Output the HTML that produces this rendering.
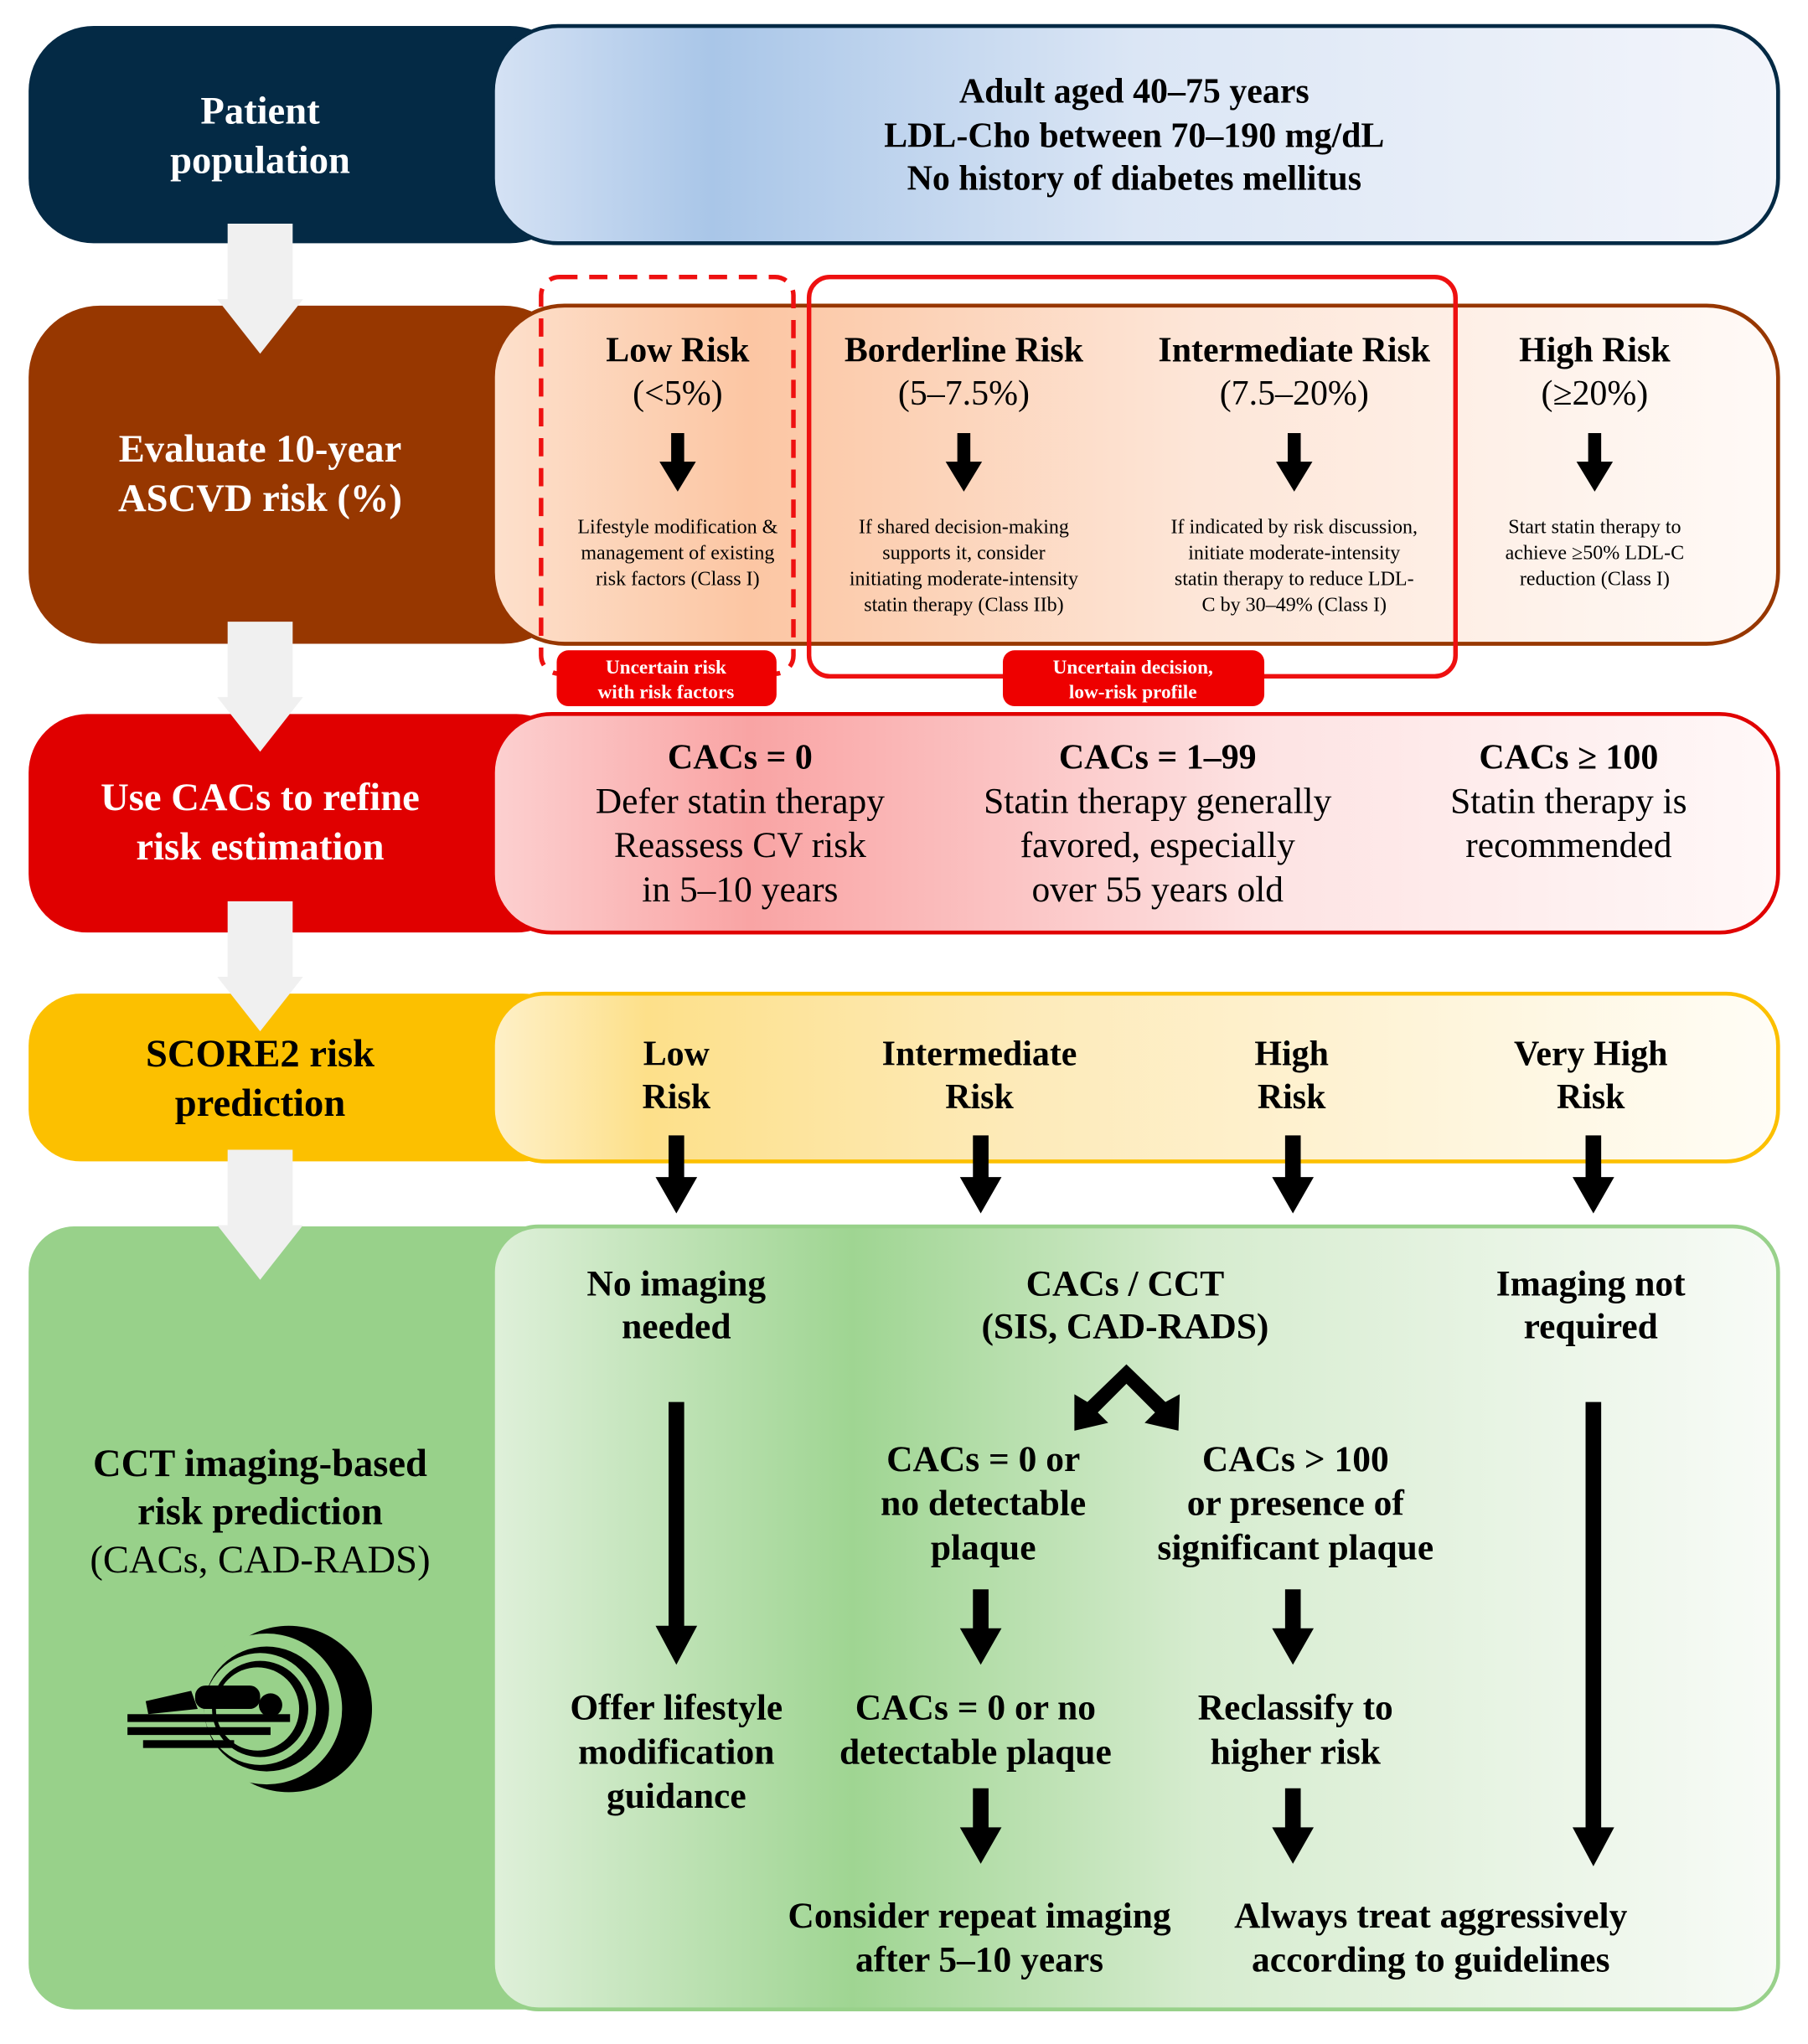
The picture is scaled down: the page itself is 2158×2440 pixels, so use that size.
<!DOCTYPE html>
<html><head><meta charset="utf-8"><style>
html,body{margin:0;padding:0;background:#fff;}
svg{display:block;}
text{font-family:"Liberation Serif",serif;}
.b{font-weight:bold;}
</style></head><body>
<svg width="2158" height="2440" viewBox="0 0 1390 1571.6" preserveAspectRatio="none" xmlns="http://www.w3.org/2000/svg">
<defs>
<linearGradient id="g1" x1="0" x2="1"><stop offset="0" stop-color="#d5e2f4"/><stop offset="0.17" stop-color="#a9c6e8"/><stop offset="0.5" stop-color="#dbe6f5"/><stop offset="1" stop-color="#f3f5fb"/></linearGradient>
<linearGradient id="g2" x1="0" x2="1"><stop offset="0" stop-color="#fde0cc"/><stop offset="0.2" stop-color="#fcc6a3"/><stop offset="0.55" stop-color="#fde6d8"/><stop offset="1" stop-color="#fffaf7"/></linearGradient>
<linearGradient id="g3" x1="0" x2="1"><stop offset="0" stop-color="#fcd0d0"/><stop offset="0.2" stop-color="#f9a4a4"/><stop offset="0.6" stop-color="#fde3e3"/><stop offset="1" stop-color="#fff8f8"/></linearGradient>
<linearGradient id="g4" x1="0" x2="1"><stop offset="0" stop-color="#fef0c8"/><stop offset="0.12" stop-color="#fde08a"/><stop offset="0.4" stop-color="#fdeab8"/><stop offset="1" stop-color="#fffdf6"/></linearGradient>
<linearGradient id="g5" x1="0" x2="1"><stop offset="0" stop-color="#dff0da"/><stop offset="0.28" stop-color="#9fd592"/><stop offset="0.55" stop-color="#d6eccf"/><stop offset="1" stop-color="#f8fbf7"/></linearGradient>
<g id="ga"><path d="M-25,0 H25 V58 H33 L0,100 L-33,58 H-25 Z" fill="#f0f0f0"/></g>
</defs>

<!-- Band 1 -->
<rect x="22" y="20" width="420" height="167" rx="50" fill="#042a45"/>
<rect x="379" y="20" width="988" height="167" rx="50" fill="url(#g1)" stroke="#042a45" stroke-width="3"/>
<text x="200" y="95" font-size="30" fill="#fff" text-anchor="middle" class="b">Patient</text>
<text x="200" y="133" font-size="30" fill="#fff" text-anchor="middle" class="b">population</text>
<g font-size="27" text-anchor="middle" class="b" fill="#000">
<text x="872" y="79">Adult aged 40–75 years</text>
<text x="872" y="113">LDL-Cho between 70–190 mg/dL</text>
<text x="872" y="146">No history of diabetes mellitus</text>
</g>

<!-- Band 2 -->
<rect x="22" y="235" width="420" height="260" rx="55" fill="#973700"/>
<rect x="379" y="235" width="988" height="260" rx="55" fill="url(#g2)" stroke="#973700" stroke-width="3"/>
<text x="200" y="355" font-size="30" fill="#fff" text-anchor="middle" class="b">Evaluate 10-year</text>
<text x="200" y="393" font-size="30" fill="#fff" text-anchor="middle" class="b">ASCVD risk (%)</text>
<rect x="416" y="213" width="194" height="305" rx="14" fill="none" stroke="#ee1010" stroke-width="3.5" stroke-dasharray="14,9"/>
<rect x="622" y="213" width="497" height="307" rx="16" fill="none" stroke="#ee1010" stroke-width="3.5"/>
<g text-anchor="middle" font-size="27">
<text x="521" y="278" class="b">Low Risk</text><text x="521" y="311">(&lt;5%)</text>
<text x="741" y="278" class="b">Borderline Risk</text><text x="741" y="311">(5–7.5%)</text>
<text x="995" y="278" class="b">Intermediate Risk</text><text x="995" y="311">(7.5–20%)</text>
<text x="1226" y="278" class="b">High Risk</text><text x="1226" y="311">(≥20%)</text>
</g>
<g fill="#000">
<path d="M516,333h10v22h9l-14,23l-14,-23h9z"/>
<path d="M736,333h10v22h9l-14,23l-14,-23h9z"/>
<path d="M990,333h10v22h9l-14,23l-14,-23h9z"/>
<path d="M1221,333h10v22h9l-14,23l-14,-23h9z"/>
</g>
<g text-anchor="middle" font-size="15.5">
<text x="521" y="410">Lifestyle modification &amp;</text><text x="521" y="430">management of existing</text><text x="521" y="450">risk factors (Class I)</text>
<text x="741" y="410">If shared decision-making</text><text x="741" y="430">supports it, consider</text><text x="741" y="450">initiating moderate-intensity</text><text x="741" y="470">statin therapy (Class IIb)</text>
<text x="995" y="410">If indicated by risk discussion,</text><text x="995" y="430">initiate moderate-intensity</text><text x="995" y="450">statin therapy to reduce LDL-</text><text x="995" y="470">C by 30–49% (Class I)</text>
<text x="1226" y="410">Start statin therapy to</text><text x="1226" y="430">achieve ≥50% LDL-C</text><text x="1226" y="450">reduction (Class I)</text>
</g>
<rect x="428" y="500" width="169" height="43" rx="9" fill="#ee0000"/>
<rect x="771" y="500" width="201" height="43" rx="9" fill="#ee0000"/>
<g text-anchor="middle" font-size="15" fill="#fff" class="b">
<text x="512" y="518">Uncertain risk</text><text x="512" y="537">with risk factors</text>
<text x="871" y="518">Uncertain decision,</text><text x="871" y="537">low-risk profile</text>
</g>

<!-- Band 3 -->
<rect x="22" y="549" width="420" height="168" rx="45" fill="#e00000"/>
<rect x="379" y="549" width="988" height="168" rx="45" fill="url(#g3)" stroke="#e00000" stroke-width="3"/>
<text x="200" y="623" font-size="30" fill="#fff" text-anchor="middle" class="b">Use CACs to refine</text>
<text x="200" y="661" font-size="30" fill="#fff" text-anchor="middle" class="b">risk estimation</text>
<g text-anchor="middle" font-size="28">
<text x="569" y="591" class="b" font-size="27">CACs = 0</text><text x="569" y="625">Defer statin therapy</text><text x="569" y="659">Reassess CV risk</text><text x="569" y="693">in 5–10 years</text>
<text x="890" y="591" class="b" font-size="27">CACs = 1–99</text><text x="890" y="625">Statin therapy generally</text><text x="890" y="659">favored, especially</text><text x="890" y="693">over 55 years old</text>
<text x="1206" y="591" class="b" font-size="27">CACs ≥ 100</text><text x="1206" y="625">Statin therapy is</text><text x="1206" y="659">recommended</text>
</g>

<!-- Band 4 -->
<rect x="22" y="764" width="420" height="129" rx="40" fill="#fcc000"/>
<rect x="379" y="764" width="988" height="129" rx="40" fill="url(#g4)" stroke="#fcc000" stroke-width="3"/>
<text x="200" y="820" font-size="30" text-anchor="middle" class="b">SCORE2 risk</text>
<text x="200" y="858" font-size="30" text-anchor="middle" class="b">prediction</text>
<g text-anchor="middle" font-size="27" class="b">
<text x="520" y="819">Low</text><text x="520" y="852">Risk</text>
<text x="753" y="819">Intermediate</text><text x="753" y="852">Risk</text>
<text x="993" y="819">High</text><text x="993" y="852">Risk</text>
<text x="1223" y="819">Very High</text><text x="1223" y="852">Risk</text>
</g>

<!-- Band 5 -->
<rect x="22" y="943" width="420" height="602" rx="35" fill="#98d18a"/>
<rect x="379" y="943" width="988" height="602" rx="35" fill="url(#g5)" stroke="#98d18a" stroke-width="3"/>
<g text-anchor="middle" font-size="30">
<text x="200" y="1135" class="b">CCT imaging-based</text>
<text x="200" y="1172" class="b">risk prediction</text>
<text x="200" y="1209">(CACs, CAD-RADS)</text>
</g>
<!-- CT icon -->
<g>
<circle cx="222" cy="1314" r="64" fill="#000"/>
<circle cx="205" cy="1314" r="58" fill="#98d18a"/>
<circle cx="205" cy="1314" r="48" fill="#000"/>
<circle cx="200" cy="1314" r="43" fill="#98d18a"/>
<circle cx="200" cy="1314" r="37" fill="#000"/>
<circle cx="198" cy="1314" r="32" fill="#98d18a"/>
<rect x="150" y="1296" width="50" height="18" rx="8" fill="#000"/>
<circle cx="208" cy="1311" r="9" fill="#000"/>
<path d="M112,1308 l35,-8 l5,14 l-38,4z" fill="#000"/>
<rect x="98" y="1318" width="125" height="6" fill="#000"/>
<rect x="98" y="1328" width="110" height="6" fill="#000"/>
<rect x="110" y="1338" width="70" height="6" fill="#000"/>
</g>
<g text-anchor="middle" font-size="28" class="b">
<text x="520" y="996">No imaging</text><text x="520" y="1029">needed</text>
<text x="865" y="996">CACs / CCT</text><text x="865" y="1029">(SIS, CAD-RADS)</text>
<text x="1223" y="996">Imaging not</text><text x="1223" y="1029">required</text>
<text x="756" y="1131">CACs = 0 or</text><text x="756" y="1165">no detectable</text><text x="756" y="1199">plaque</text>
<text x="996" y="1131">CACs &gt; 100</text><text x="996" y="1165">or presence of</text><text x="996" y="1199">significant plaque</text>
<text x="520" y="1322">Offer lifestyle</text><text x="520" y="1356">modification</text><text x="520" y="1390">guidance</text>
<text x="750" y="1322">CACs = 0 or no</text><text x="750" y="1356">detectable plaque</text>
<text x="996" y="1322">Reclassify to</text><text x="996" y="1356">higher risk</text>
<text x="753" y="1482">Consider repeat imaging</text><text x="753" y="1516">after 5–10 years</text>
<text x="1100" y="1482">Always treat aggressively</text><text x="1100" y="1516">according to guidelines</text>
</g>
<g fill="#000">
<!-- arrows below band 4 -->
<path d="M514,873h12v32h10l-16,28l-16,-28h10z"/>
<path d="M748,873h12v32h10l-16,28l-16,-28h10z"/>
<path d="M988,873h12v32h10l-16,28l-16,-28h10z"/>
<path d="M1219,873h12v32h10l-16,28l-16,-28h10z"/>
<!-- long arrows -->
<path d="M514,1078h12v172h10l-16,30l-16,-30h10z"/>
<path d="M1219,1078h12v327h10l-16,30l-16,-30h10z"/>
<path d="M748,1222h12v30h10l-16,28l-16,-28h10z"/>
<path d="M988,1222h12v30h10l-16,28l-16,-28h10z"/>
<path d="M748,1375h12v30h10l-16,28l-16,-28h10z"/>
<path d="M988,1375h12v30h10l-16,28l-16,-28h10z"/>
<!-- chevron double arrow -->
<path d="M866,1049 L896,1078 L907,1072 L906,1100 L880,1094 L888,1086 L866,1064 L844,1086 L852,1094 L826,1100 L826,1072 L836,1078 Z"/>
</g>

<!-- gray down arrows -->
<use href="#ga" x="200" y="172"/>
<use href="#ga" x="200" y="478"/>
<use href="#ga" x="200" y="693"/>
<use href="#ga" x="200" y="884"/>
</svg>
</body></html>
